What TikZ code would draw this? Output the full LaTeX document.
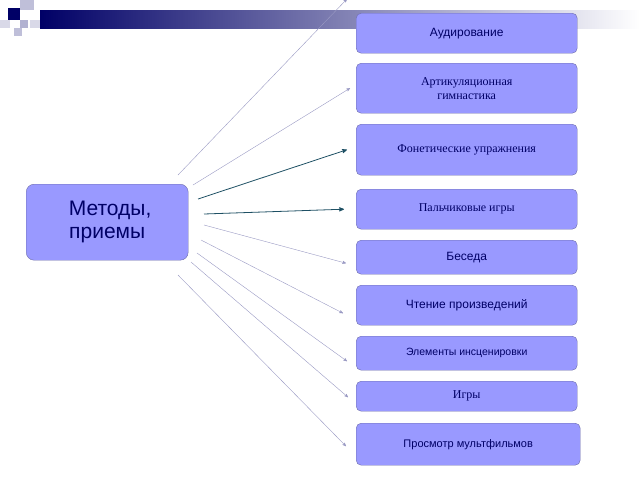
\documentclass[tikz,border=0pt]{standalone}
\usepackage{fontspec}
\setmainfont{Liberation Serif}
\setsansfont{Liberation Sans}
\usetikzlibrary{arrows}
\definecolor{boxfill}{RGB}{153,153,255}
\definecolor{boxline}{RGB}{110,110,170}
\definecolor{navy}{RGB}{0,0,102}
\definecolor{teal}{RGB}{30,80,100}
\begin{document}
\begin{tikzpicture}[x=1pt,y=-1pt,>=stealth']
\tikzset{
    item/.style={%
        draw=boxline, fill=boxfill,
        rectangle,
        rounded corners=5pt,
        anchor=north west,
        minimum width=221pt,
        text=navy,
        font=\fontsize{12}{14}\selectfont,
        align=center,
        inner sep=0pt
        },
    thin link/.style={->, draw=boxline!70, line width=0.4pt},
    main link/.style={->, draw=teal, line width=0.8pt},
}
\useasboundingbox (0,0) rectangle (640,480);
%%%HEADER
\shade[left color=navy, right color=white] (40,10) rectangle (640,28);
\fill[navy] (8,8) rectangle (20,20);
\fill[navy!25] (20,0) rectangle (34,10);
\fill[navy!30] (20,20) rectangle (28,28);
\fill[navy!15] (30,20) rectangle (40,28);
\fill[navy!25] (14,28) rectangle (22,36);
\fill[navy!15] (0,20) rectangle (10,28);
%%%MAIN
\node[draw=boxline, fill=boxfill, rounded corners=8pt, minimum width=162pt,
      minimum height=76pt, text=navy, align=center, anchor=north west,
      font=\sffamily\fontsize{21}{23}\selectfont] (meth) at (26,184)
      {\ Методы,\\приемы};
%%%ITEMS
\node[item, minimum height=40pt, font=\sffamily\fontsize{12}{14}\selectfont] (aud) at (356,13) {Аудирование};
\node[item, minimum height=50pt] (art) at (356,63) {Артикуляционная\\гимнастика};
\node[item, minimum height=51pt] (fon) at (356,124) {Фонетические упражнения};
\node[item, minimum height=40pt] (pal) at (356,189) {Пальчиковые игры};
\node[item, minimum height=34pt, font=\sffamily\fontsize{12}{14}\selectfont] (bes) at (356,240) {Беседа};
\node[item, minimum height=40pt, font=\sffamily\fontsize{12}{14}\selectfont] (cht) at (356,285) {Чтение произведений};
\node[item, minimum height=34pt, font=\sffamily\fontsize{10.5}{12}\selectfont] (elm) at (356,336) {Элементы инсценировки};
\node[item, minimum height=30pt] (igr) at (356,381) {Игры};
\node[item, minimum height=42pt, minimum width=224pt, font=\sffamily\fontsize{11}{13}\selectfont] (pro) at (356,423) {Просмотр мультфильмов};
%%%LINKS
\coordinate (s1) at (178,175);
\coordinate (s2) at (193,185);
\coordinate (s3) at (198,199);
\coordinate (s4) at (204,214);
\coordinate (s5) at (204,225);
\coordinate (s6) at (201,240);
\coordinate (s7) at (197,253);
\coordinate (s8) at (191,262);
\coordinate (s9) at (178,275);
\draw[thin link] (s1) -- ([xshift=-9pt,yshift=14pt]aud.north west);
\draw[thin link] (s2) -- ([xshift=-6pt]art.west);
\draw[main link] (s3) -- ([xshift=-9pt]fon.west);
\draw[main link] (s4) -- ([xshift=-12pt]pal.west);
\draw[thin link] (s5) -- ([xshift=-10pt,yshift=-6pt]bes.west);
\draw[thin link] (s6) -- ([xshift=-13pt,yshift=-8pt]cht.west);
\draw[thin link] (s7) -- ([xshift=-9pt,yshift=-8pt]elm.west);
\draw[thin link] (s8) -- ([xshift=-8pt,yshift=-1pt]igr.west);
\draw[thin link] (s9) -- ([xshift=-10pt,yshift=-2pt]pro.west);
\end{tikzpicture}
\end{document}
